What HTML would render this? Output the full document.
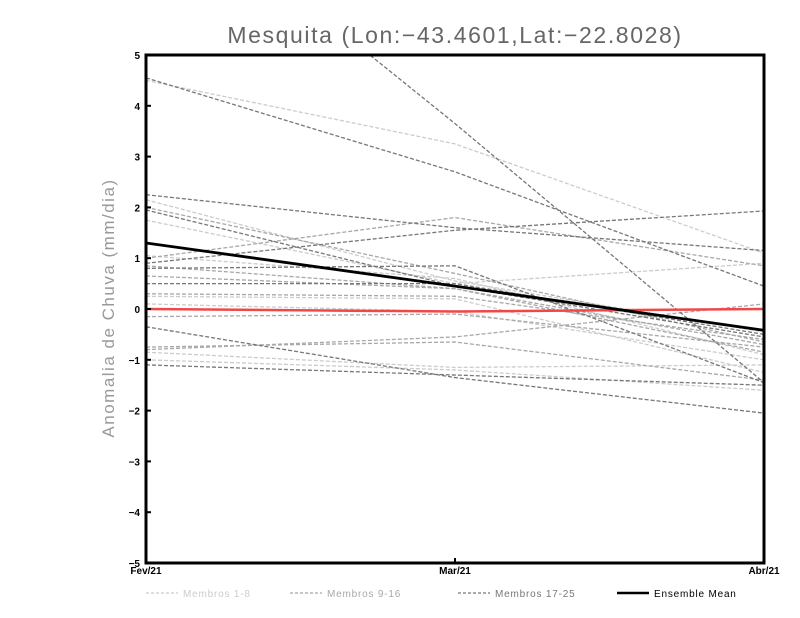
<!DOCTYPE html>
<html><head><meta charset="utf-8"><style>
body{margin:0;background:#fff;}
svg{display:block;font-family:"Liberation Sans",sans-serif;}
</style></head><body>
<svg id="chart" width="800" height="618">
<text x="455" y="43" text-anchor="middle" font-size="23" letter-spacing="1.6" fill="#666">Mesquita (Lon:−43.4601,Lat:−22.8028)</text>
<text transform="translate(114,308) rotate(-90)" text-anchor="middle" font-size="17" letter-spacing="1.5" fill="#999">Anomalia de Chuva (mm/dia)</text>
<defs><clipPath id="pc"><rect x="146" y="55" width="618" height="508"/></clipPath></defs>
<g id="series" clip-path="url(#pc)"></g>
<g id="axes"></g>
<g id="legend"></g>
</svg>
<script>
const categories=["Fev/21","Mar/21","Abr/21"];
const yTicks=[-5,-4,-3,-2,-1,0,1,2,3,4,5];
const members1to8=[[4.5,3.25,1.1],[2.15,0.55,-0.45],[1.75,0.5,0.9],[1.05,0.6,-0.9],[0.25,0.2,-1.25],[-1.0,-1.2,-1.6],[-0.85,-1.15,-1.1],[0.1,-0.05,-1.0]];
const members9to16=[[1.0,1.8,0.85],[-0.8,-0.55,0.1],[0.3,0.25,-0.6],[-0.15,-0.1,-0.75],[-0.75,-0.65,-1.4],[2.0,0.7,-0.65],[0.85,0.4,-0.85],[0.65,0.4,-0.7]];
const members17to25=[[8.55,3.65,-1.45],[4.55,2.7,0.45],[1.95,0.45,-0.55],[0.8,0.85,-1.45],[-0.35,-1.35,-2.05],[-1.1,-1.3,-1.5],[0.5,0.5,-0.5],[2.25,1.6,1.15],[0.9,1.55,1.93]];
const ensembleMean=[1.3,0.45,-0.42];
const observed=[0,-0.05,0];
const L=146,R=764,T=55,B=563;
const xs=i=>L+i*(R-L)/(categories.length-1);
const ys=v=>B-(v+5)*(B-T)/10;
const NS="http://www.w3.org/2000/svg";
function mk(tag,attrs,parent){const e=document.createElementNS(NS,tag);for(const k in attrs)e.setAttribute(k,attrs[k]);parent.appendChild(e);return e;}
const sg=document.getElementById('series'),ag=document.getElementById('axes'),lg=document.getElementById('legend');
function pts(d){return d.map((v,i)=>xs(i)+","+ys(v)).join(" ");}
function drawGroup(arr,color,name){arr.forEach((d,k)=>{const p=mk('polyline',{points:pts(d),fill:'none',stroke:color,'stroke-width':1.3,'stroke-dasharray':'4,2'},sg);

});}
drawGroup(members1to8,'#cccccc','member-light');
drawGroup(members9to16,'#a8a8a8','member-mid');
drawGroup(members17to25,'#777777','member-dark');
const ob=mk('polyline',{points:pts(observed),fill:'none',stroke:'#f04848','stroke-width':2.5},sg);


const em=mk('polyline',{points:pts(ensembleMean),fill:'none',stroke:'#000','stroke-width':2.8},sg);


const fr=mk('rect',{x:L,y:T,width:R-L,height:B-T,fill:'none',stroke:'#000','stroke-width':3},ag);


yTicks.forEach(v=>{const y=ys(v);
mk('line',{x1:L,x2:L+5,y1:y,y2:y,stroke:'#000','stroke-width':2},ag);
const t=mk('text',{x:L-6,y:y+4,'text-anchor':'end','font-size':10,'font-weight':'bold'},ag);t.textContent=v<0?'−'+(-v):String(v);

});
categories.forEach((c,i)=>{const x=xs(i);
mk('line',{x1:x,x2:x,y1:B,y2:B-5,stroke:'#000','stroke-width':2},ag);
const t=mk('text',{x:x,y:B+11,'text-anchor':'middle','font-size':10,'font-weight':'bold'},ag);t.textContent=c;

});
const leg=[["Membros 1-8",'#cccccc',146,true],["Membros 9-16",'#a8a8a8',290,true],["Membros 17-25",'#777777',458,true],["Ensemble Mean",'#000',617,false]];
leg.forEach(([lab,col,x,dash])=>{const l=mk('line',{x1:x,x2:x+32,y1:593,y2:593,stroke:col,'stroke-width':dash?1.2:2.5},lg);if(dash)l.setAttribute('stroke-dasharray','3,2');
const t=mk('text',{x:x+37,y:597,'font-size':10,'letter-spacing':'0.8',fill:dash?col:'#000'},lg);t.textContent=lab;

});
</script>
</body></html>
